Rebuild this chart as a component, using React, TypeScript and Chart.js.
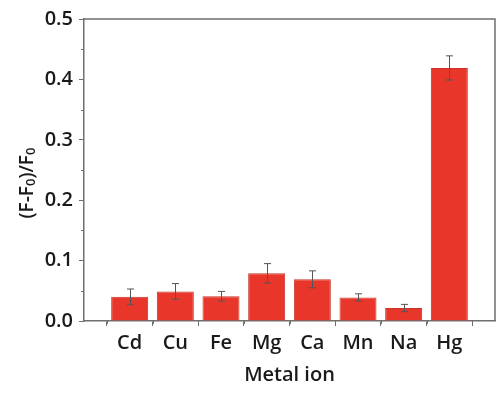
import React, { useEffect, useRef } from "react";
import { Chart, registerables } from "chart.js";

Chart.register(...registerables);

const metals = ["Cd", "Cu", "Fe", "Mg", "Ca", "Mn", "Na", "Hg"];
const values = [0.04, 0.049, 0.041, 0.079, 0.069, 0.039, 0.0215, 0.419];
const errors = [0.013, 0.013, 0.008, 0.016, 0.014, 0.006, 0.006, 0.02];
const yTicks = [0, 0.1, 0.2, 0.3, 0.4, 0.5];
const yTitleParts = [
  { t: "(F-F", sub: false },
  { t: "0", sub: true },
  { t: ")/F", sub: false },
  { t: "0", sub: true },
];

const FONT = "'Open Sans', 'Noto Sans', sans-serif";
const AXIS_COLOR = "#6f6f6f";
const TEXT_COLOR = "#1a1a1a";

const labels = ["", ...metals, ""];
const barData: (number | null)[] = [null, ...values, null];
const errData: (number | null)[] = [null, ...errors, null];

const errorBarPlugin = {
  id: "errorBars",
  afterDatasetsDraw(chart: any) {
    const meta = chart.getDatasetMeta(0);
    const y = chart.scales.y;
    const ctx = chart.ctx;
    ctx.save();
    ctx.strokeStyle = "#555";
    ctx.lineWidth = 1;
    meta.data.forEach((el: any, i: number) => {
      const v = barData[i];
      const e = errData[i];
      if (v == null || e == null) return;
      const x = Math.round(el.x) + 0.5;
      const yt = y.getPixelForValue(v + e);
      const yb = y.getPixelForValue(v - e);
      ctx.beginPath();
      ctx.moveTo(x, yt);
      ctx.lineTo(x, yb);
      ctx.moveTo(x - 3.5, yt);
      ctx.lineTo(x + 3.5, yt);
      ctx.moveTo(x - 3.5, yb);
      ctx.lineTo(x + 3.5, yb);
      ctx.stroke();
    });
    ctx.restore();
  },
};

const framePlugin = {
  id: "frame",
  afterDraw(chart: any) {
    const { ctx, chartArea } = chart;
    const { left, right, top, bottom } = chartArea;
    const x = chart.scales.x;
    const y = chart.scales.y;
    ctx.save();
    ctx.strokeStyle = AXIS_COLOR;
    ctx.lineWidth = 1.5;
    ctx.beginPath();
    ctx.moveTo(left, top);
    ctx.lineTo(right, top);
    ctx.lineTo(right, bottom);
    ctx.stroke();
    ctx.lineWidth = 1;
    ctx.beginPath();
    for (let i = 0; i < labels.length - 1; i++) {
      const p = (x.getPixelForTick(i) + x.getPixelForTick(i + 1)) / 2;
      ctx.moveTo(Math.round(p) + 0.5, bottom);
      ctx.lineTo(Math.round(p) + 0.5, bottom + 3);
    }
    for (let i = 0; i < yTicks.length - 1; i++) {
      const p = y.getPixelForValue((yTicks[i] + yTicks[i + 1]) / 2);
      ctx.moveTo(left, Math.round(p) + 0.5);
      ctx.lineTo(left - 3, Math.round(p) + 0.5);
    }
    ctx.stroke();

    // y axis title with subscripts
    const mainFont = `600 19px ${FONT}`;
    const subFont = `600 13px ${FONT}`;
    const widths = yTitleParts.map((p) => {
      ctx.font = p.sub ? subFont : mainFont;
      return ctx.measureText(p.t).width;
    });
    const total = widths.reduce((a, b) => a + b, 0);
    const cy = (top + bottom) / 2 + 13;
    ctx.translate(33, cy);
    ctx.rotate(-Math.PI / 2);
    ctx.fillStyle = TEXT_COLOR;
    ctx.textBaseline = "alphabetic";
    ctx.textAlign = "left";
    let cx = -total / 2;
    yTitleParts.forEach((p, i) => {
      ctx.font = p.sub ? subFont : mainFont;
      ctx.fillText(p.t, cx, p.sub ? 2 : 0);
      cx += widths[i];
    });
    ctx.restore();
  },
};

export default function App() {
  const ref = useRef<HTMLCanvasElement>(null);
  useEffect(() => {
    if (!ref.current) return;
    const chart = new Chart(ref.current, {
      type: "bar",
      data: {
        labels,
        datasets: [
          {
            data: barData,
            backgroundColor: "#e8362a",
            borderColor: "#c9342a",
            borderWidth: 1,
            categoryPercentage: 0.9,
            barPercentage: 0.9,
          },
        ],
      },
      plugins: [errorBarPlugin, framePlugin],
      options: {
        animation: false,
        responsive: false,
        maintainAspectRatio: false,
        layout: { padding: { top: 19, right: 5, left: 0, bottom: 0 } },
        plugins: { legend: { display: false }, tooltip: { enabled: false } },
        scales: {
          x: {
            type: "category",
            offset: false,
            grid: {
              drawOnChartArea: false,
              tickLength: 5,
              color: AXIS_COLOR,
            },
            border: { display: true, color: AXIS_COLOR, width: 1.5 },
            ticks: {
              color: TEXT_COLOR,
              font: { family: FONT, size: 20, weight: "600" },
              padding: 5,
              maxRotation: 0,
              autoSkip: false,
            },
            title: {
              display: true,
              text: "Metal ion",
              color: TEXT_COLOR,
              font: { family: FONT, size: 20, weight: "600" },
              padding: { top: 0, bottom: 6 },
            },
            afterFit(scale: any) {
              scale.height = 72;
            },
          },
          y: {
            type: "linear",
            min: 0,
            max: 0.5,
            grid: {
              drawOnChartArea: false,
              tickLength: 5,
              color: AXIS_COLOR,
            },
            border: { display: true, color: AXIS_COLOR, width: 1.5 },
            afterBuildTicks(scale: any) {
              scale.ticks = yTicks.map((v) => ({ value: v }));
            },
            ticks: {
              color: TEXT_COLOR,
              font: { family: FONT, size: 20, weight: "600" },
              padding: 6,
              callback: (v: any) => Number(v).toFixed(1),
            },
            title: { display: false },
            afterFit(scale: any) {
              scale.width = 84;
            },
          },
        },
      },
    });
    return () => chart.destroy();
  }, []);
  return (
    <div style={{ position: "fixed", left: 0, top: 0, width: 500, height: 393, background: "#fff" }}>
      <canvas ref={ref} width={500} height={393} style={{ width: 500, height: 393 }} />
    </div>
  );
}
